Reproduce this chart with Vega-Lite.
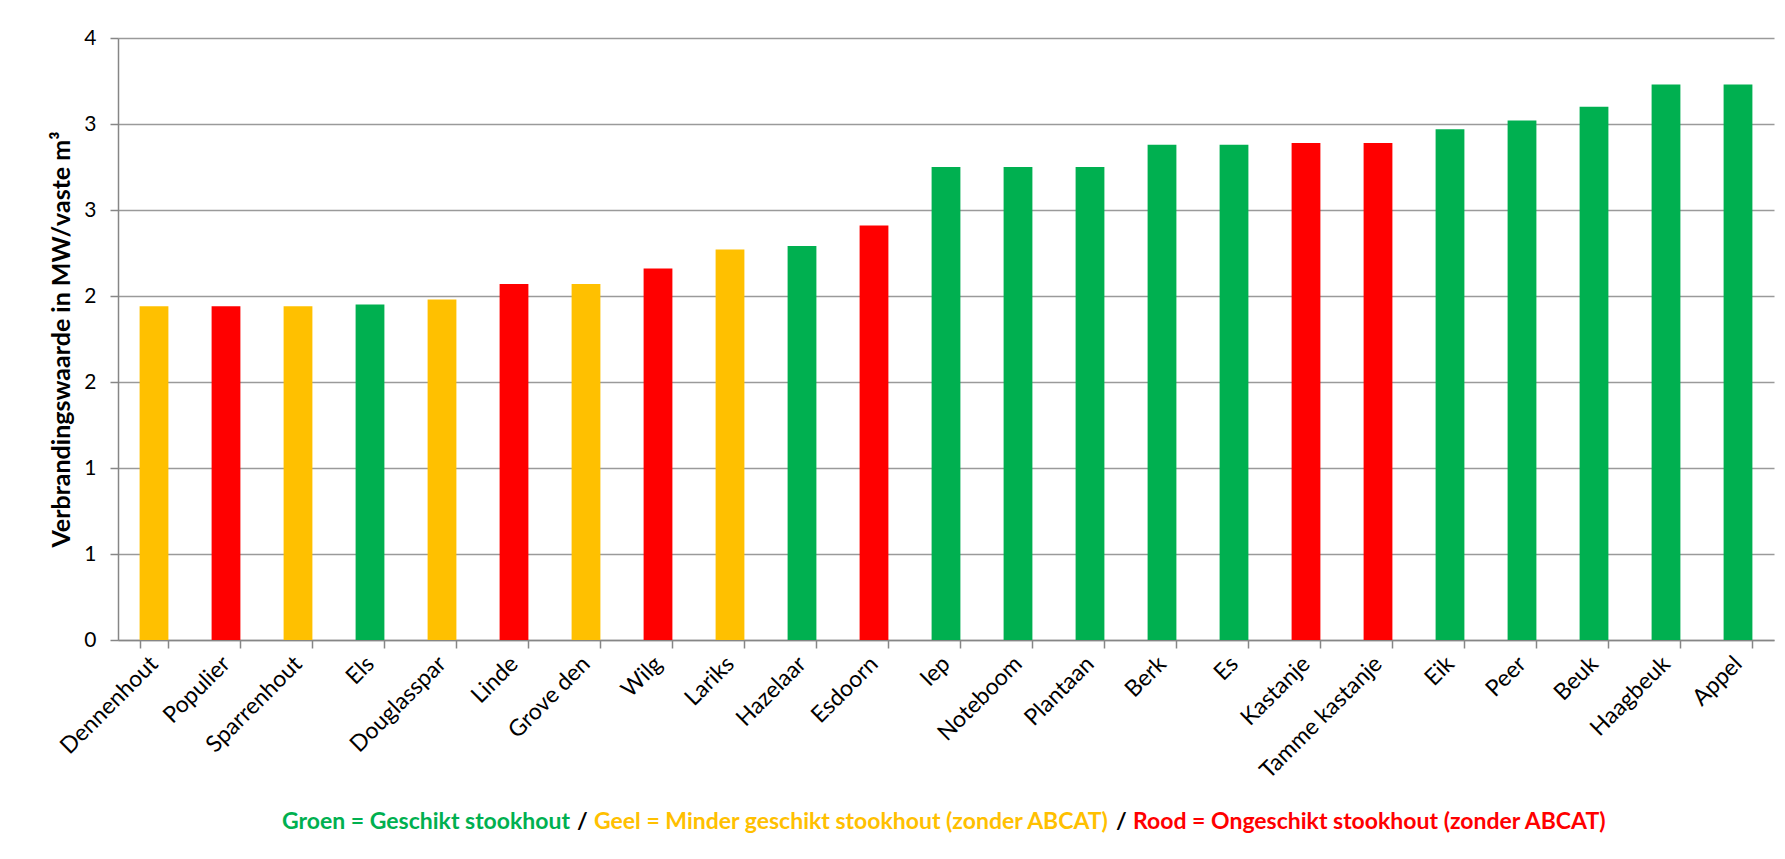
{
  "$schema": "https://vega.github.io/schema/vega-lite/v6.json",
  "width": 1656,
  "height": 602,
  "autosize": {"type": "none"},
  "padding": {"left": 118, "top": 38, "right": 11, "bottom": 219},
  "background": "white",
  "config": {"font": "Lato", "view": {"stroke": null}},
  "data": {"values": [
    {"houtsoort": "Dennenhout", "waarde": 1.94, "kleur": "Geel = Minder geschikt stookhout (zonder ABCAT)"},
    {"houtsoort": "Populier", "waarde": 1.94, "kleur": "Rood = Ongeschikt stookhout (zonder ABCAT)"},
    {"houtsoort": "Sparrenhout", "waarde": 1.94, "kleur": "Geel = Minder geschikt stookhout (zonder ABCAT)"},
    {"houtsoort": "Els", "waarde": 1.95, "kleur": "Groen = Geschikt stookhout"},
    {"houtsoort": "Douglasspar", "waarde": 1.98, "kleur": "Geel = Minder geschikt stookhout (zonder ABCAT)"},
    {"houtsoort": "Linde", "waarde": 2.07, "kleur": "Rood = Ongeschikt stookhout (zonder ABCAT)"},
    {"houtsoort": "Grove den", "waarde": 2.07, "kleur": "Geel = Minder geschikt stookhout (zonder ABCAT)"},
    {"houtsoort": "Wilg", "waarde": 2.16, "kleur": "Rood = Ongeschikt stookhout (zonder ABCAT)"},
    {"houtsoort": "Lariks", "waarde": 2.27, "kleur": "Geel = Minder geschikt stookhout (zonder ABCAT)"},
    {"houtsoort": "Hazelaar", "waarde": 2.29, "kleur": "Groen = Geschikt stookhout"},
    {"houtsoort": "Esdoorn", "waarde": 2.41, "kleur": "Rood = Ongeschikt stookhout (zonder ABCAT)"},
    {"houtsoort": "Iep", "waarde": 2.75, "kleur": "Groen = Geschikt stookhout"},
    {"houtsoort": "Noteboom", "waarde": 2.75, "kleur": "Groen = Geschikt stookhout"},
    {"houtsoort": "Plantaan", "waarde": 2.75, "kleur": "Groen = Geschikt stookhout"},
    {"houtsoort": "Berk", "waarde": 2.88, "kleur": "Groen = Geschikt stookhout"},
    {"houtsoort": "Es", "waarde": 2.88, "kleur": "Groen = Geschikt stookhout"},
    {"houtsoort": "Kastanje", "waarde": 2.89, "kleur": "Rood = Ongeschikt stookhout (zonder ABCAT)"},
    {"houtsoort": "Tamme kastanje", "waarde": 2.89, "kleur": "Rood = Ongeschikt stookhout (zonder ABCAT)"},
    {"houtsoort": "Eik", "waarde": 2.97, "kleur": "Groen = Geschikt stookhout"},
    {"houtsoort": "Peer", "waarde": 3.02, "kleur": "Groen = Geschikt stookhout"},
    {"houtsoort": "Beuk", "waarde": 3.10, "kleur": "Groen = Geschikt stookhout"},
    {"houtsoort": "Haagbeuk", "waarde": 3.23, "kleur": "Groen = Geschikt stookhout"},
    {"houtsoort": "Appel", "waarde": 3.23, "kleur": "Groen = Geschikt stookhout"}
  ]},
  "mark": {"type": "bar"},
  "encoding": {
    "x": {
      "field": "houtsoort", "type": "nominal", "sort": null,
      "scale": {"paddingInner": 0.6, "paddingOuter": 0.3},
      "axis": {
        "title": null, "labelAngle": -45, "labelAlign": "right", "labelBaseline": "middle",
        "labelFontSize": 23, "labelColor": "black", "labelPadding": 12, "labelLimit": 0,
        "tickBand": "extent", "tickSize": 8, "tickColor": "#868686", "tickWidth": 1.5,
        "domainColor": "#868686", "domainWidth": 1.5, "grid": false
      }
    },
    "y": {
      "field": "waarde", "type": "quantitative",
      "scale": {"domain": [0, 3.5], "nice": false},
      "axis": {
        "values": [0, 0.5, 1, 1.5, 2, 2.5, 3, 3.5],
        "labelExpr": "round(datum.value)",
        "title": "Verbrandingswaarde in MW/vaste m³",
        "titleFontSize": 25, "titleFontWeight": "bold", "titleColor": "black", "titlePadding": 9,
        "labelFontSize": 21, "labelColor": "black", "labelPadding": 14,
        "tickSize": 8, "tickColor": "#868686", "tickWidth": 1.5,
        "domainColor": "#868686", "domainWidth": 1.5,
        "grid": true, "gridColor": "#9a9a9a", "gridWidth": 1.5
      }
    },
    "color": {
      "field": "kleur", "type": "nominal",
      "scale": {
        "domain": ["Groen = Geschikt stookhout", "/", "Geel = Minder geschikt stookhout (zonder ABCAT)", " /", "Rood = Ongeschikt stookhout (zonder ABCAT)"],
        "range": ["#00B050", "#000000", "#FFC000", "#000000", "#FF0000"]
      },
      "legend": {
        "orient": "none", "legendX": 141, "legendY": 772,
        "direction": "horizontal", "columns": 5, "title": null, "gridAlign": "none",
        "symbolSize": 0, "symbolStrokeWidth": 0, "symbolOpacity": 0,
        "labelOffset": 0, "labelFontSize": 23, "labelFontWeight": "bold", "labelLimit": 0,
        "columnPadding": -17,
        "encode": {"labels": {"update": {"fill": {"scale": "color", "field": "value"}}}}
      }
    }
  }
}
